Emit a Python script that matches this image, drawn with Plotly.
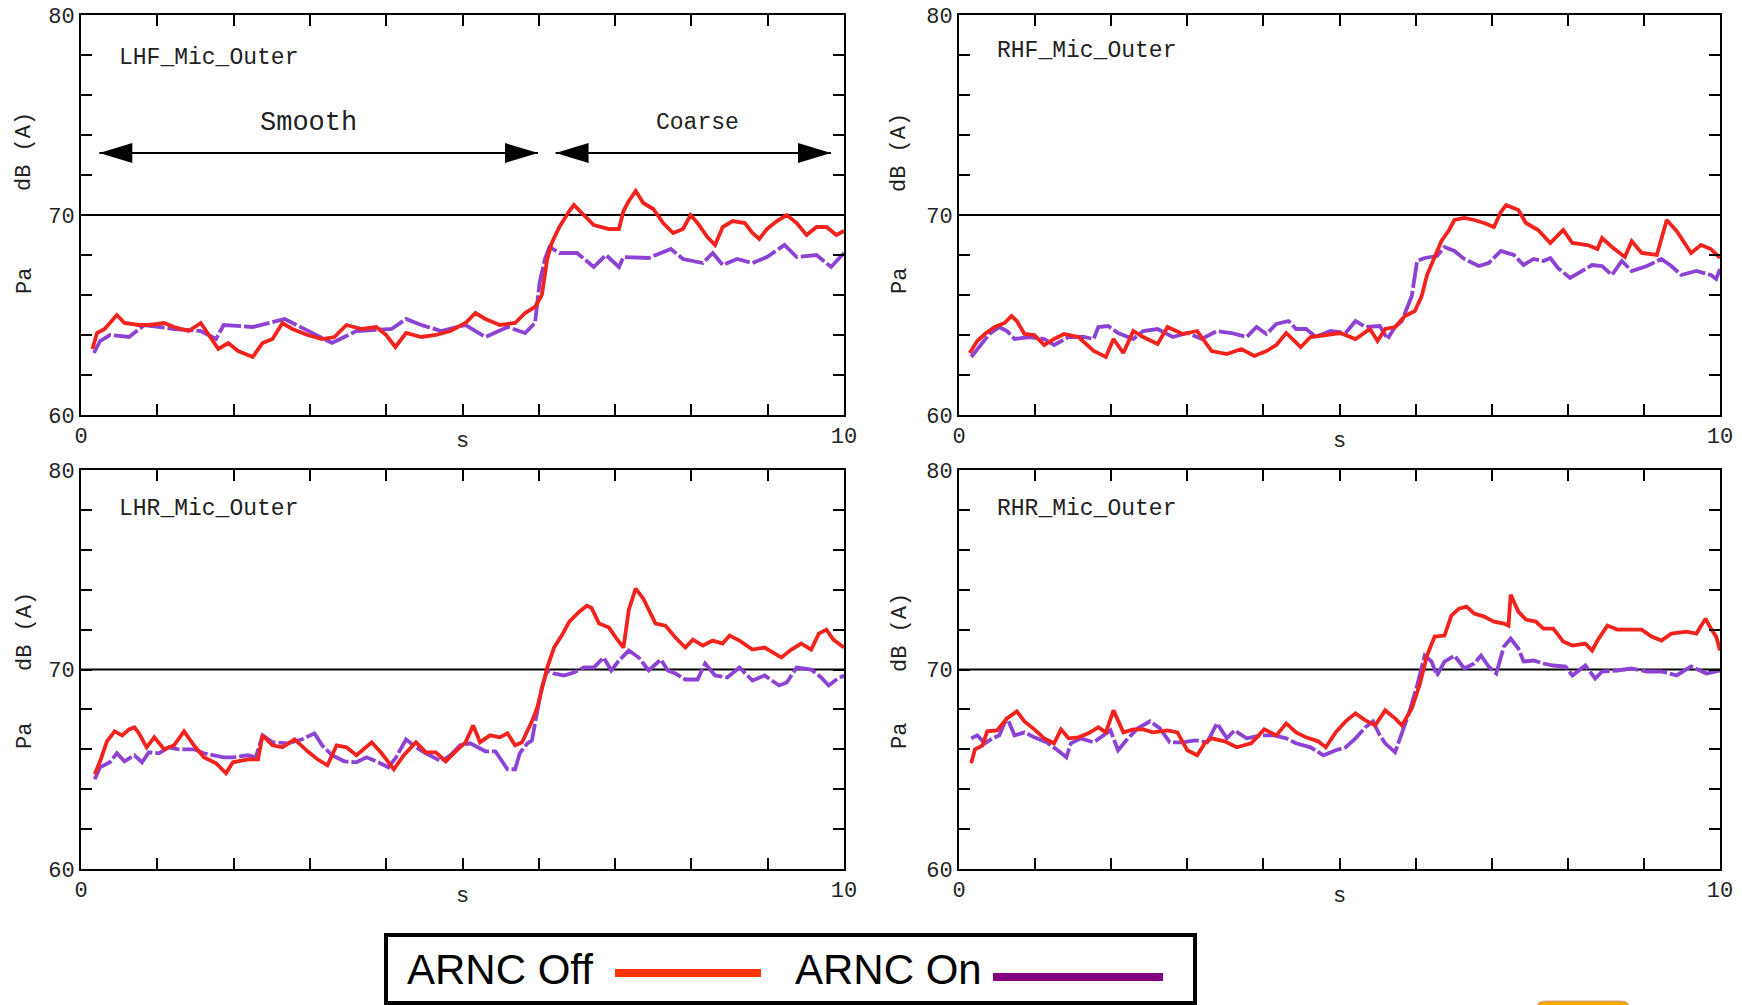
import plotly.graph_objects as go

# ---------------- data ----------------
panel_names = ["LHF_Mic_Outer", "RHF_Mic_Outer", "LHR_Mic_Outer", "RHR_Mic_Outer"]
series_names = ["ARNC Off", "ARNC On"]
x_tick_labels = ["0", "", "", "", "", "", "", "", "", "", "10"]
y_tick_values = [60, 62, 64, 66, 68, 70, 72, 74, 76, 78, 80]
y_tick_labels = ["60", "", "", "", "", "70", "", "", "", "", "80"]
region_labels = ["Smooth", "Coarse"]
smooth_span = [0.24, 5.99]
coarse_span = [6.22, 9.83]
region_label_x = [2.98, 8.08]
arrow_level = 73.1
reference_level = 70

lhf_off_x = [0.15,0.21,0.31,0.47,0.57,0.76,0.89,1.09,1.22,1.41,1.57,1.67,1.80,1.93,2.06,2.25,2.38,2.51,2.64,2.77,2.97,3.16,3.32,3.48,3.68,3.87,4.00,4.12,4.26,4.46,4.65,4.84,5.04,5.17,5.30,5.49,5.69,5.82,5.95,6.04,6.11,6.17,6.27,6.40,6.46,6.59,6.72,6.92,7.05,7.11,7.18,7.27,7.37,7.50,7.63,7.76,7.89,7.99,8.08,8.21,8.31,8.41,8.54,8.70,8.80,8.89,8.99,9.12,9.25,9.38,9.51,9.64,9.77,9.90,10.0]
lhf_off_y = [63.3,64.1,64.3,65.0,64.6,64.5,64.5,64.6,64.4,64.2,64.6,64.0,63.3,63.6,63.2,62.9,63.6,63.8,64.6,64.3,64.0,63.8,63.9,64.5,64.3,64.4,64.0,63.4,64.1,63.9,64.0,64.2,64.6,65.1,64.8,64.5,64.6,65.1,65.4,66.0,67.8,68.6,69.4,70.2,70.5,70.0,69.5,69.3,69.3,70.2,70.7,71.2,70.6,70.3,69.6,69.1,69.3,70.0,69.6,68.9,68.5,69.4,69.7,69.6,69.1,68.8,69.3,69.7,70.0,69.6,69.0,69.4,69.4,69.0,69.2]
lhf_on_x = [0.17,0.25,0.38,0.63,0.83,1.22,1.57,1.77,1.87,2.25,2.67,3.03,3.29,3.61,4.07,4.26,4.46,4.72,5.04,5.30,5.59,5.82,5.95,6.01,6.08,6.14,6.27,6.50,6.72,6.88,7.05,7.11,7.44,7.73,7.89,8.15,8.28,8.41,8.60,8.80,8.99,9.22,9.38,9.64,9.83,10.0]
lhf_on_y = [63.1,63.7,64.0,63.9,64.5,64.3,64.2,63.8,64.5,64.4,64.8,64.1,63.6,64.2,64.3,64.8,64.5,64.2,64.5,63.9,64.4,64.1,64.6,66.6,67.8,68.4,68.1,68.1,67.4,68.0,67.4,67.9,67.85,68.3,67.8,67.6,68.1,67.5,67.8,67.6,67.9,68.5,67.9,68.0,67.4,68.1]

rhf_off_x = [0.14,0.24,0.34,0.47,0.60,0.69,0.76,0.86,0.99,1.12,1.25,1.38,1.57,1.77,1.93,2.03,2.16,2.29,2.42,2.61,2.74,2.94,3.13,3.32,3.52,3.71,3.88,4.04,4.17,4.30,4.49,4.62,4.82,5.01,5.21,5.40,5.50,5.60,5.73,5.86,5.99,6.08,6.15,6.25,6.34,6.44,6.51,6.64,6.77,6.90,7.03,7.12,7.19,7.35,7.45,7.61,7.77,7.94,8.06,8.26,8.39,8.45,8.58,8.75,8.84,8.97,9.17,9.30,9.43,9.62,9.75,9.88,10.0]
rhf_off_y = [63.1,63.7,64.05,64.4,64.6,64.95,64.7,64.05,64.0,63.5,63.8,64.05,63.9,63.2,62.9,63.8,63.1,64.2,63.9,63.55,64.4,64.05,64.2,63.2,63.05,63.3,62.95,63.2,63.5,64.1,63.4,63.9,64.0,64.1,63.8,64.3,63.7,64.3,64.4,64.95,65.2,65.95,67.0,67.85,68.7,69.25,69.75,69.85,69.75,69.6,69.4,70.15,70.5,70.25,69.6,69.25,68.6,69.25,68.6,68.5,68.3,68.85,68.4,67.9,68.7,68.1,68.0,69.75,69.2,68.1,68.5,68.3,67.85]
rhf_on_x = [0.16,0.27,0.40,0.53,0.63,0.73,0.92,1.12,1.25,1.44,1.64,1.77,1.83,1.96,2.09,2.29,2.42,2.61,2.81,3.00,3.19,3.39,3.58,3.78,3.91,4.04,4.17,4.33,4.43,4.56,4.69,4.88,5.08,5.21,5.34,5.53,5.63,5.73,5.82,5.95,6.02,6.12,6.28,6.38,6.51,6.64,6.83,6.96,7.12,7.29,7.42,7.55,7.68,7.77,7.87,8.03,8.19,8.32,8.45,8.58,8.71,8.84,9.04,9.23,9.36,9.49,9.69,9.88,9.95,10.0]
rhf_on_y = [62.9,63.4,64.05,64.4,64.2,63.8,63.9,63.8,63.5,63.9,63.9,63.8,64.4,64.45,64.1,63.8,64.2,64.3,63.9,64.1,63.8,64.2,64.1,63.9,64.4,64.05,64.55,64.7,64.3,64.3,63.9,64.2,64.1,64.7,64.4,64.45,63.8,64.4,64.7,65.95,67.7,67.85,67.95,68.4,68.2,67.8,67.45,67.6,68.2,68.0,67.5,67.8,67.7,67.85,67.35,66.85,67.2,67.5,67.45,67.0,67.7,67.2,67.45,67.8,67.45,67.0,67.2,67.0,66.8,67.3]

lhr_off_x = [0.18,0.25,0.34,0.44,0.54,0.63,0.70,0.76,0.86,0.96,1.09,1.22,1.35,1.48,1.61,1.77,1.90,1.99,2.19,2.32,2.38,2.51,2.64,2.80,2.97,3.10,3.23,3.35,3.48,3.61,3.81,3.94,4.10,4.23,4.39,4.52,4.65,4.78,4.91,5.04,5.14,5.23,5.36,5.49,5.59,5.69,5.78,5.85,5.91,5.98,6.04,6.11,6.20,6.30,6.40,6.53,6.63,6.69,6.79,6.92,7.01,7.11,7.18,7.27,7.37,7.44,7.53,7.66,7.79,7.92,8.02,8.15,8.28,8.41,8.50,8.63,8.80,8.96,9.09,9.18,9.31,9.44,9.57,9.67,9.77,9.86,10.0]
lhr_off_y = [64.75,65.4,66.4,66.9,66.7,67.0,67.1,66.8,66.1,66.6,66.0,66.2,66.9,66.2,65.6,65.3,64.8,65.35,65.5,65.5,66.7,66.2,66.1,66.5,65.9,65.5,65.2,66.2,66.1,65.7,66.35,65.8,65.0,65.7,66.35,65.85,65.85,65.4,65.9,66.35,67.2,66.35,66.7,66.6,66.8,66.2,66.35,66.9,67.4,68.1,69.1,70.1,71.1,71.7,72.4,72.9,73.2,73.1,72.3,72.1,71.6,71.1,73.0,74.05,73.55,73.0,72.3,72.2,71.6,71.1,71.5,71.2,71.45,71.3,71.7,71.45,71.0,71.1,70.8,70.6,71.0,71.3,71.0,71.8,72.0,71.5,71.1]
lhr_on_x = [0.18,0.25,0.38,0.47,0.57,0.70,0.80,0.89,1.02,1.15,1.28,1.48,1.61,1.74,1.87,1.99,2.19,2.29,2.38,2.51,2.71,2.90,3.06,3.16,3.29,3.45,3.61,3.74,3.87,4.03,4.13,4.26,4.39,4.52,4.72,4.84,4.97,5.10,5.30,5.43,5.52,5.59,5.69,5.75,5.85,5.91,5.98,6.04,6.11,6.20,6.33,6.46,6.59,6.72,6.85,6.95,7.05,7.18,7.31,7.44,7.60,7.69,7.79,7.92,8.08,8.18,8.31,8.47,8.63,8.80,8.96,9.15,9.25,9.38,9.57,9.70,9.80,9.90,10.0]
lhr_on_y = [64.5,65.1,65.35,65.8,65.4,65.7,65.35,65.85,65.8,66.1,66.0,66.0,65.8,65.7,65.6,65.6,65.7,65.6,66.7,66.35,66.3,66.5,66.8,66.2,65.7,65.4,65.35,65.6,65.4,65.1,65.6,66.5,66.1,65.8,65.4,65.7,66.2,66.3,65.9,65.9,65.4,65.0,65.0,65.8,66.3,66.45,67.9,69.1,69.95,69.8,69.7,69.85,70.1,70.1,70.6,69.95,70.45,70.95,70.6,69.95,70.5,69.95,69.8,69.5,69.5,70.3,69.7,69.6,70.1,69.45,69.7,69.2,69.35,70.1,70.0,69.6,69.2,69.5,69.7]

rhr_off_x = [0.16,0.21,0.31,0.37,0.50,0.63,0.76,0.86,0.99,1.12,1.25,1.34,1.44,1.57,1.70,1.83,1.93,2.03,2.16,2.29,2.42,2.55,2.74,2.87,3.00,3.13,3.23,3.32,3.49,3.65,3.84,4.01,4.17,4.30,4.43,4.56,4.72,4.82,4.95,5.08,5.21,5.34,5.47,5.60,5.73,5.82,5.95,6.05,6.15,6.25,6.38,6.47,6.57,6.67,6.77,6.90,7.03,7.16,7.22,7.25,7.35,7.45,7.58,7.68,7.81,7.94,8.06,8.23,8.32,8.39,8.52,8.65,8.81,8.97,9.10,9.23,9.36,9.56,9.69,9.81,9.88,9.95,10.0]
rhr_off_y = [65.3,66.0,66.2,66.9,66.95,67.55,67.9,67.4,67.0,66.55,66.3,67.0,66.55,66.6,66.8,67.1,66.85,67.95,66.85,67.0,67.0,66.85,66.95,66.85,65.95,65.7,66.3,66.55,66.4,66.1,66.3,67.0,66.7,67.3,66.85,66.6,66.4,66.1,66.85,67.4,67.8,67.45,67.2,67.95,67.55,67.2,68.05,69.2,70.7,71.65,71.7,72.7,73.05,73.15,72.8,72.65,72.4,72.3,72.2,73.75,72.9,72.5,72.4,72.05,72.05,71.4,71.2,71.3,70.95,71.45,72.2,72.0,72.0,72.0,71.65,71.45,71.8,71.9,71.8,72.55,72.05,71.65,70.95]
rhr_on_x = [0.16,0.24,0.34,0.44,0.53,0.63,0.73,0.86,0.99,1.15,1.28,1.41,1.47,1.60,1.77,1.90,1.99,2.09,2.22,2.35,2.51,2.64,2.77,2.94,3.10,3.26,3.39,3.52,3.62,3.78,3.97,4.14,4.30,4.43,4.62,4.79,4.95,5.08,5.21,5.34,5.44,5.53,5.60,5.73,5.82,5.92,6.02,6.12,6.21,6.28,6.38,6.51,6.64,6.77,6.86,6.96,7.06,7.16,7.25,7.35,7.42,7.55,7.68,7.81,7.97,8.06,8.23,8.36,8.45,8.65,8.84,9.04,9.23,9.43,9.62,9.82,10.0]
rhr_on_y = [66.55,66.7,66.3,66.55,66.7,67.6,66.7,66.85,66.6,66.35,66.0,65.6,66.3,66.55,66.35,66.7,66.95,65.95,66.55,67.05,67.4,67.05,66.35,66.35,66.45,66.35,67.3,66.55,66.95,66.55,66.7,66.7,66.55,66.3,66.1,65.7,65.95,66.1,66.55,67.1,67.4,66.7,66.3,65.85,66.85,67.9,69.2,70.7,70.4,69.7,70.4,70.7,70.05,70.3,70.7,70.15,69.8,71.15,71.55,71.05,70.4,70.45,70.3,70.2,70.15,69.7,70.2,69.55,69.9,69.95,70.05,69.9,69.9,69.7,70.15,69.8,69.95]

# ---------------- styling / layout ----------------
W, H = 1742, 1005
RED = "#F2231C"
PURPLE = "#8C42D3"
LEG_RED = "#FF3300"
LEG_PURPLE = "#800080"
MONO = "Liberation Mono, Courier New, monospace"

def px_x(p):
    return p / W

def px_y(p):
    return 1 - p / H

# panel pixel boxes: (left, right, top, bottom)
boxes = [(81, 844, 15, 415), (959, 1720, 15, 415), (81, 844, 470, 869), (959, 1720, 470, 869)]

panels = [
    (lhf_off_x, lhf_off_y, lhf_on_x, lhf_on_y),
    (rhf_off_x, rhf_off_y, rhf_on_x, rhf_on_y),
    (lhr_off_x, lhr_off_y, lhr_on_x, lhr_on_y),
    (rhr_off_x, rhr_off_y, rhr_on_x, rhr_on_y),
]

fig = go.Figure()
layout = dict(template="none", width=W, height=H, margin=dict(l=0, r=0, t=0, b=0, autoexpand=False),
              paper_bgcolor="white", plot_bgcolor="white", showlegend=False,
              font=dict(family=MONO, color="#222222"))
shapes = []
annotations = []

label_y = [77.85, 78.2, 78.05, 78.05]

for i, (box, data) in enumerate(zip(boxes, panels)):
    n = "" if i == 0 else str(i + 1)
    xa, ya = "x" + n, "y" + n
    l, r, t, b = box
    layout["xaxis" + n] = dict(
        domain=[px_x(l), px_x(r)], range=[0, 10], anchor=ya, automargin=False,
        tickvals=list(range(11)), ticktext=x_tick_labels,
        ticks="inside", ticklen=11, tickwidth=2, tickcolor="black",
        showline=True, linecolor="black", linewidth=2, mirror="ticks",
        showgrid=False, zeroline=False,
        tickfont=dict(family=MONO, size=22, color="#222222"))
    layout["yaxis" + n] = dict(
        domain=[px_y(b), px_y(t)], range=[60, 80], anchor=xa, automargin=False,
        tickvals=y_tick_values, ticktext=y_tick_labels,
        ticks="inside", ticklen=11, tickwidth=2, tickcolor="black",
        showline=True, linecolor="black", linewidth=2, mirror="ticks",
        showgrid=False, zeroline=False,
        tickfont=dict(family=MONO, size=22, color="#222222"))

    offx, offy, onx, ony = data
    assert len(offx) == len(offy) and len(onx) == len(ony)
    fig.add_trace(go.Scatter(x=onx, y=ony, mode="lines", name=series_names[1],
                             line=dict(color=PURPLE, width=3.8, dash="26px,3px"),
                             xaxis=xa, yaxis=ya))
    fig.add_trace(go.Scatter(x=offx, y=offy, mode="lines", name=series_names[0],
                             line=dict(color=RED, width=3.8),
                             xaxis=xa, yaxis=ya))

    # reference line at 70
    shapes.append(dict(type="line", xref=xa + " domain", yref=ya, x0=0, x1=1,
                       y0=reference_level, y1=reference_level,
                       line=dict(color="black", width=2), layer="below"))

    # panel label
    annotations.append(dict(x=0.47, y=label_y[i], xref=xa, yref=ya, text=panel_names[i],
                            showarrow=False, xanchor="left", yanchor="middle",
                            font=dict(family=MONO, size=23, color="#222222")))
    # x title
    annotations.append(dict(x=5, y=px_y(b + 27), xref=xa, yref="paper", text="s",
                            showarrow=False, xanchor="center", yanchor="middle",
                            font=dict(family=MONO, size=22, color="#222222")))
    # y titles
    yx = px_x(25 if l < 400 else 900)
    off_db = 137 if t < 100 else 162
    annotations.append(dict(x=yx, y=px_y(t + off_db), xref="paper", yref="paper",
                            text="dB (A)", textangle=-90, showarrow=False,
                            xanchor="center", yanchor="middle",
                            font=dict(family=MONO, size=22, color="#222222")))
    annotations.append(dict(x=yx, y=px_y(t + 266), xref="paper", yref="paper",
                            text="Pa", textangle=-90, showarrow=False,
                            xanchor="center", yanchor="middle",
                            font=dict(family=MONO, size=22, color="#222222")))

# Smooth / Coarse arrows (first panel)
for span, label, lx, fsize in [(smooth_span, region_labels[0], region_label_x[0], 27),
                               (coarse_span, region_labels[1], region_label_x[1], 23)]:
    shapes.append(dict(type="line", xref="x", yref="y", x0=span[0], x1=span[1],
                       y0=arrow_level, y1=arrow_level, line=dict(color="black", width=2)))
    shapes.append(dict(type="path", xref="x", yref="y", xsizemode="pixel", ysizemode="pixel",
                       xanchor=span[0], yanchor=arrow_level,
                       path="M0,0 L33,10 L33,-10 Z", fillcolor="black", line=dict(width=0)))
    shapes.append(dict(type="path", xref="x", yref="y", xsizemode="pixel", ysizemode="pixel",
                       xanchor=span[1], yanchor=arrow_level,
                       path="M0,0 L-33,10 L-33,-10 Z", fillcolor="black", line=dict(width=0)))
    annotations.append(dict(x=lx, y=arrow_level + 1.5, xref="x", yref="y",
                            text=label, showarrow=False, xanchor="center", yanchor="middle",
                            font=dict(family=MONO, size=fsize, color="#222222")))

# legend box (manual, text before line)
shapes.append(dict(type="rect", xref="paper", yref="paper",
                   x0=px_x(386), x1=px_x(1195), y0=px_y(1003), y1=px_y(935),
                   line=dict(color="black", width=4), fillcolor="white"))
annotations.append(dict(x=px_x(405), y=px_y(969), xref="paper", yref="paper",
                        text=series_names[0], showarrow=False, xanchor="left", yanchor="middle",
                        font=dict(family="Liberation Sans, Arial, sans-serif", size=42, color="black")))
shapes.append(dict(type="line", xref="paper", yref="paper", x0=px_x(615), x1=px_x(761),
                   y0=px_y(973), y1=px_y(973), line=dict(color=LEG_RED, width=8)))
annotations.append(dict(x=px_x(793), y=px_y(969), xref="paper", yref="paper",
                        text=series_names[1], showarrow=False, xanchor="left", yanchor="middle",
                        font=dict(family="Liberation Sans, Arial, sans-serif", size=42, color="black")))
shapes.append(dict(type="line", xref="paper", yref="paper", x0=px_x(993), x1=px_x(1163),
                   y0=px_y(977), y1=px_y(977), line=dict(color=LEG_PURPLE, width=8)))

# small orange tab peeking at the bottom edge
shapes.append(dict(type="path", xref="paper", yref="paper",
                   path="M {a},{b} L {a},{c} Q {a},{d} {e},{d} L {f},{d} Q {g},{d} {g},{c} L {g},{b} Z".format(
                       a=px_x(1538), b=px_y(1008), c=px_y(1004), d=px_y(1001),
                       e=px_x(1548), f=px_x(1618), g=px_x(1628)),
                   fillcolor="#F5A800", line=dict(color="#C8A0A0", width=1)))

layout["shapes"] = shapes
layout["annotations"] = annotations
fig.update_layout(**layout)

fig.write_html(
    "out.html",
    post_script="document.body.style.margin='0';document.body.style.padding='0';"
                "document.body.style.overflow='hidden';"
                "document.documentElement.style.overflow='hidden';",
)
